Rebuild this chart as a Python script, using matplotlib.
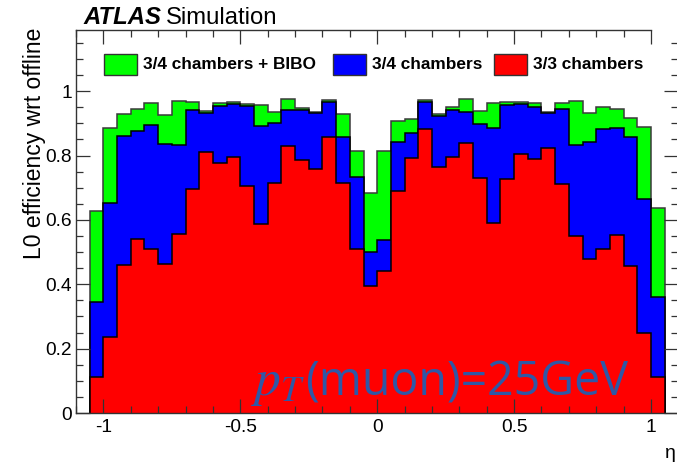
"""
L0 efficiency vs eta for three trigger conditions (ROOT-style filled histograms).
"""

import numpy as np
import matplotlib.pyplot as plt
from matplotlib.patches import Rectangle
from matplotlib.ticker import MultipleLocator, FuncFormatter

W, H = 677, 465        # output size in pixels
DPI = 100

plt.rcParams["font.family"] = ["Liberation Sans", "DejaVu Sans"]
plt.rcParams["axes.unicode_minus"] = False
plt.rcParams["mathtext.fontset"] = "stix"

# 42 bins of 0.05 in eta, from -1.05 to 1.05
edges = np.round(np.arange(-1.05, 1.0501, 0.05), 3)

eff_bibo = [0.627, 0.887, 0.928, 0.944, 0.963, 0.925, 0.969, 0.967, 0.939, 0.963,
            0.967, 0.960, 0.958, 0.934, 0.975, 0.947, 0.935, 0.972, 0.928, 0.813, 0.684,
            0.814, 0.908, 0.913, 0.972, 0.930, 0.951, 0.975, 0.939, 0.962, 0.967,
            0.967, 0.963, 0.935, 0.963, 0.969, 0.931, 0.951, 0.946, 0.918, 0.889, 0.638]
eff_34 = [0.345, 0.653, 0.861, 0.875, 0.896, 0.835, 0.833, 0.941, 0.931, 0.954,
          0.960, 0.954, 0.892, 0.900, 0.941, 0.941, 0.931, 0.965, 0.859, 0.734, 0.500,
          0.536, 0.842, 0.871, 0.965, 0.923, 0.941, 0.936, 0.897, 0.887, 0.957,
          0.960, 0.952, 0.931, 0.944, 0.832, 0.843, 0.882, 0.887, 0.856, 0.666, 0.361]
eff_33 = [0.111, 0.237, 0.460, 0.541, 0.510, 0.463, 0.557, 0.697, 0.812, 0.776,
          0.795, 0.705, 0.588, 0.714, 0.830, 0.785, 0.759, 0.858, 0.715, 0.510, 0.396,
          0.442, 0.689, 0.793, 0.881, 0.764, 0.795, 0.840, 0.731, 0.591, 0.726,
          0.804, 0.790, 0.823, 0.710, 0.551, 0.479, 0.510, 0.552, 0.456, 0.248, 0.111]

labels = ["3/4 chambers + BIBO", "3/4 chambers", "3/3 chambers"]
fills = ["#00ff00", "#0000ff", "#ff0000"]
lines = ["#3a3a3a", "black", "black"]


def fx(p):  # pixel x -> figure fraction
    return p / W


def fy(p):  # pixel y (from top) -> figure fraction
    return 1 - p / H


fig = plt.figure(figsize=(W / DPI, H / DPI), dpi=DPI)
# axes frame: x 76..678 px, y 30..413 px (right edge cropped like the original)
ax = fig.add_axes([fx(76), fy(413), (678.4 - 76) / W, (413 - 30) / H])

for vals, fc, lc in zip([eff_bibo, eff_34, eff_33], fills, lines):
    ax.stairs(vals, edges, baseline=0, fill=True, color=fc, lw=0)
    ax.stairs(vals, edges, baseline=0, fill=False, color=lc, lw=1.1)

ax.set_xlim(-1.1, 1.1)
ax.set_ylim(0, 1.19)

ax.xaxis.set_major_locator(MultipleLocator(0.5))
ax.xaxis.set_minor_locator(MultipleLocator(0.1))
ax.yaxis.set_major_locator(MultipleLocator(0.2))
ax.yaxis.set_minor_locator(MultipleLocator(0.05))
fmt = FuncFormatter(lambda v, _: f"{v:g}")
ax.xaxis.set_major_formatter(fmt)
ax.yaxis.set_major_formatter(fmt)

ax.tick_params(which="both", direction="in", top=True, right=True,
               color="#333333", width=0.9, labelsize=13.8)
ax.tick_params(which="major", length=10)
ax.tick_params(which="minor", length=5)
ax.tick_params(axis="x", pad=4)
ax.tick_params(axis="y", pad=3)
for s in ax.spines.values():
    s.set_linewidth(1.0)
    s.set_color("#333333")
ax.spines["top"].set_bounds(-1.1, 1.0)

# titles
fig.text(fx(35), fy(28), "L0 efficiency wrt offline", rotation=90,
         ha="center", va="top", fontsize=16.5)
fig.text(fx(670), fy(453), "\u03b7", ha="center", va="center", fontsize=14)

t1 = fig.text(fx(83), fy(24), "ATLAS", fontsize=17.2, fontweight="bold",
              fontstyle="italic", va="baseline")
fig.canvas.draw()
bb = t1.get_window_extent()
fig.text(bb.x1 / W + fx(5), fy(24), "Simulation", fontsize=17.2, va="baseline")

# legend, single row
boxes = [(104, 137), (333, 366), (494, 527)]
for (x0, x1), fc, lab in zip(boxes, fills, labels):
    fig.add_artist(Rectangle((fx(x0), fy(75)), fx(x1 - x0), (75 - 54) / H,
                             transform=fig.transFigure, facecolor=fc,
                             edgecolor="#333333", lw=1.0))
    fig.text(fx(x1 + 6), fy(64.5), lab, fontsize=12.4, fontweight="bold",
             ha="left", va="center")

# annotation: bigger italic p_T, then the plain part
note_color = "#2f58a6"
fig.text(fx(251), fy(395), r"$p_T$", color=note_color, fontsize=37, va="baseline")
fig.text(fx(305), fy(395), "(muon)=25GeV", color=note_color,
         fontsize=33.5, family=["Open Sans", "DejaVu Sans"], va="baseline")

fig.savefig("out.png", dpi=DPI)
